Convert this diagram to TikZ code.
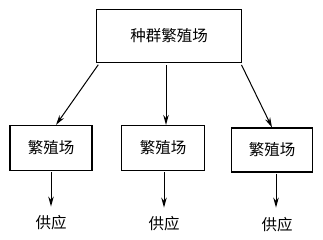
\documentclass[tikz,border=0pt]{standalone}
\usepackage{fontspec}
\newfontfamily\cjk{Noto Sans CJK SC}
\usetikzlibrary{arrows.meta}
\begin{document}
\begin{tikzpicture}[x=1pt,y=-1pt,
  box/.style={draw,line width=1.2pt,inner sep=0pt,font=\cjk\fontsize{15.5}{15.5}\selectfont},
  lbl/.style={font=\cjk\fontsize{15.5}{15.5}\selectfont,inner sep=0pt},
  arr/.style={line width=1pt,-{Stealth[length=10pt,width=5.5pt]}}]
\useasboundingbox (0,0) rectangle (323,239);
\node[box,minimum width=145pt,minimum height=53pt] (top) at (169,36) {种群繁殖场};
\node[box,minimum width=82pt,minimum height=45pt] (b1) at (51,148) {繁殖场};
\node[box,minimum width=83pt,minimum height=45pt] (b2) at (163,148) {繁殖场};
\node[box,minimum width=81pt,minimum height=44pt] (b3) at (272,150) {繁殖场};
\node[lbl] (s1) at (51,223) {供应};
\node[lbl] (s2) at (164,224) {供应};
\node[lbl] (s3) at (277,225) {供应};
\draw[arr,shorten <=2pt] ([xshift=3.5pt]top.south west) -- ([xshift=5pt]b1.north);
\draw[arr,shorten <=2pt] ([xshift=-3pt]top.south) -- ([xshift=3pt]b2.north);
\draw[arr,shorten <=2pt] ([xshift=-1.5pt]top.south east) -- (b3.north);
\draw[arr,shorten <=1pt,shorten >=9pt] (b1.south) -- (s1.north);
\draw[arr,shorten <=1pt,shorten >=9pt] ([xshift=1pt]b2.south) -- ([xshift=1pt]b2.south |- s2.north);
\draw[arr,shorten <=1pt,shorten >=10pt] ([xshift=4pt]b3.south) -- ([xshift=4pt]b3.south |- s3.north);
\end{tikzpicture}
\end{document}
